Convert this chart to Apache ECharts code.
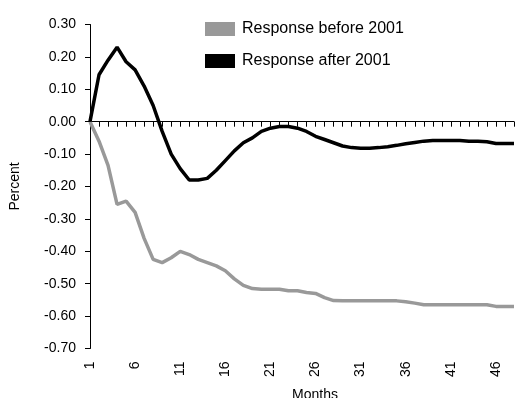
<!DOCTYPE html>
<html>
<head>
<meta charset="utf-8">
<script src="https://cdn.jsdelivr.net/npm/echarts@6/dist/echarts.min.js"></script>
<style>
html,body{margin:0;padding:0;background:#fff;}
#chart{width:518px;height:398px;}
</style>
</head>
<body>
<div id="chart"></div>
<script>
const months = [];
for (let i = 1; i <= 48; i++) months.push(String(i));

const seriesNames = ['Response before 2001', 'Response after 2001'];

const before2001 = [
  0, -0.06, -0.135, -0.255, -0.245, -0.28, -0.36, -0.425, -0.435, -0.42,
  -0.40, -0.41, -0.425, -0.435, -0.445, -0.46, -0.485, -0.505, -0.515, -0.517,
  -0.517, -0.517, -0.522, -0.522, -0.527, -0.53, -0.543, -0.552,
  -0.553, -0.553, -0.553, -0.553, -0.553, -0.553, -0.553,
  -0.556, -0.56,
  -0.565, -0.565, -0.565, -0.565, -0.565, -0.565, -0.565, -0.565,
  -0.57, -0.57, -0.57
];

const after2001 = [
  0, 0.145, 0.19, 0.23, 0.185, 0.16, 0.11, 0.05, -0.03, -0.10,
  -0.145, -0.18, -0.18, -0.175, -0.15, -0.12, -0.09, -0.065, -0.05, -0.03,
  -0.02, -0.015, -0.015, -0.02, -0.03, -0.045, -0.055, -0.065, -0.075, -0.08,
  -0.082, -0.082, -0.08, -0.077, -0.073, -0.068, -0.064, -0.06, -0.058, -0.058,
  -0.058, -0.058, -0.06, -0.06, -0.062, -0.067, -0.067, -0.067
];

const yMin = -0.7, yMax = 0.3, yStep = 0.1;

const FONT = '"Liberation Sans", Arial, sans-serif';
const chart = echarts.init(document.getElementById('chart'));
chart.setOption({
  animation: false,
  backgroundColor: '#ffffff',
  textStyle: { fontFamily: FONT, color: '#000' },
  grid: { left: 90, right: 4, top: 24.5, bottom: 49.5, containLabel: false, outerBoundsMode: 'none' },
  legend: {
    orient: 'vertical',
    left: 200,
    top: 16,
    itemWidth: 30,
    itemHeight: 14,
    itemGap: 16,
    icon: 'rect',
    data: seriesNames,
    textStyle: { fontFamily: FONT, fontSize: 16, color: '#000', padding: [0, 0, 0, 2] }
  },
  xAxis: [
    {
      type: 'category',
      data: months,
      boundaryGap: false,
      position: 'bottom',
      axisLine: { show: true, onZero: true, lineStyle: { color: '#000', width: 1, type: 'solid' } },
      axisTick: { show: true, inside: false, interval: 0, length: 5, lineStyle: { color: '#000', width: 1, type: 'solid' } },
      axisLabel: { show: false },
      splitLine: { show: false }
    },
    {
      type: 'category',
      data: months,
      boundaryGap: false,
      position: 'bottom',
      axisLine: { show: false, onZero: false },
      axisTick: { show: false },
      splitLine: { show: false },
      axisLabel: { interval: 4, rotate: 90, margin: 13, fontSize: 14, color: '#000', fontFamily: FONT },
      name: 'Months',
      nameLocation: 'middle',
      nameGap: 40,
      nameTextStyle: { fontSize: 14, color: '#000', fontFamily: FONT, padding: [0, 0, 0, 26] }
    }
  ],
  yAxis: {
    type: 'value',
    position: 'left',
    min: yMin,
    max: yMax,
    interval: yStep,
    axisLine: { show: true, onZero: false, lineStyle: { color: '#000', width: 1, type: 'solid' } },
    axisTick: { show: true, inside: false, length: 5, lineStyle: { color: '#000', width: 1, type: 'solid' } },
    splitLine: { show: false },
    axisLabel: {
      margin: 14, fontSize: 14, color: '#000', fontFamily: FONT,
      formatter: v => v.toFixed(2)
    },
    name: 'Percent',
    nameLocation: 'middle',
    nameGap: 68,
    nameRotate: 90,
    nameTextStyle: { fontSize: 14, color: '#000', fontFamily: FONT }
  },
  series: [
    {
      name: seriesNames[0],
      type: 'line',
      xAxisIndex: 1,
      data: before2001,
      symbol: 'none',
      itemStyle: { color: '#999999' },
      lineStyle: { color: '#999999', width: 3.5 },
      z: 2
    },
    {
      name: seriesNames[1],
      type: 'line',
      xAxisIndex: 0,
      data: after2001,
      symbol: 'none',
      itemStyle: { color: '#000000' },
      lineStyle: { color: '#000000', width: 3.5 },
      z: 3
    }
  ]
});
</script>
</body>
</html>
